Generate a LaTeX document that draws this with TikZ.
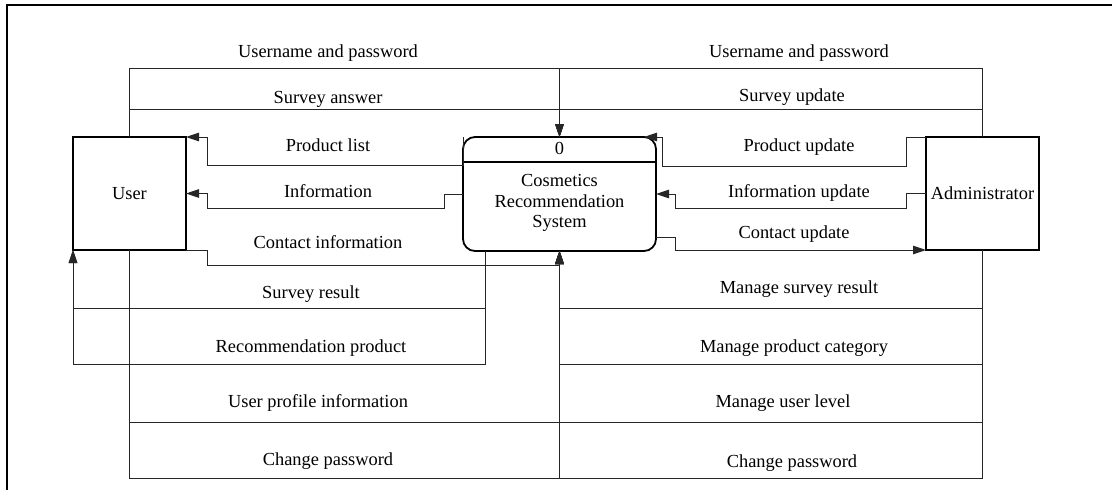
\documentclass[tikz,border=0pt]{standalone}
\usepackage{fontspec}
\setmainfont{Liberation Serif}
\usetikzlibrary{arrows.meta}
\tikzset{
  every node/.style={font=\fontsize{18.4}{20.7}\selectfont},
  conn/.style={draw=black!85, line width=1pt},
  flow/.style={conn, -{Triangle[length=13pt,width=8.5pt]}},
  entity/.style={draw, line width=1.4pt, minimum width=113pt, minimum height=113pt,
                 inner sep=2pt, outer sep=0pt},
  procbox/.style={draw, line width=1.8pt, rounded corners=12pt, minimum width=193pt,
                  minimum height=114pt, outer sep=0pt},
  lbl/.style={inner sep=0pt, text height=12.5pt, text depth=4pt, yshift=-1.5pt},
}
\begin{document}
\begin{tikzpicture}[x=1pt,y=-1pt]
\useasboundingbox (0,0) rectangle (1112,490);
% page frame
\draw[line width=2.5pt] (7,492) -- (7,5) -- (1114,5);

% external entities and the process
\node[entity] (user) at (129.5,193.5) {User};
\node[entity] (admin) at (982.5,193.5) {Administrator};
\node[procbox] (proc) at (559.5,194) {};
\draw[line width=1.2pt] ([yshift=-25pt]proc.north west) -- ([yshift=-25pt]proc.north east);
\node (pnum) at (559.5,148) {0};
\node[align=center] (ptext) at (559.5,203) {Cosmetics\\Recommendation\\System};

% flows from the user
\draw[flow] (user.north) -- ++(0,-69) -| (proc.north);
\draw[flow] (user.north) |- ([yshift=28pt]proc.north) -- (proc.north);
\draw[flow] (proc.north west) -- ++(0,28) -| ([xshift=21pt]user.north east) -- (user.north east);
\draw[flow] (proc.west) -- ++(-19,0) -- ++(0,14) -| ([xshift=21pt]user.east) -- (user.east);
\draw[flow] (user.south east) -- ++(21,0) -- ++(0,15) -| (proc.south);
\draw[flow] ([xshift=-74.5pt]proc.south) -- ++(0,57) -| (user.south west);
\draw[flow] ([xshift=-74.5pt]proc.south) -- ++(0,113) -| (user.south west);
\draw[flow] (user.south) -- ++(0,172) -| (proc.south);
\draw[flow] (user.south) -- ++(0,228) -| (proc.south);

% flows from the administrator
\draw[flow] (admin.north) -- ++(0,-69) -| (proc.north);
\draw[flow] (admin.north) |- ([yshift=28pt]proc.north) -- (proc.north);
\draw[flow] (admin.north west) -- ++(-20,0) -- ++(0,29) -| ([xshift=6pt]proc.north east) -- ([xshift=-12pt]proc.north east);
\draw[flow] (admin.west) -- ++(-20,0) -- ++(0,14.5) -| ([xshift=19pt]proc.east) -- (proc.east);
\draw[flow] ([yshift=-43pt]proc.east) -- ++(19,0) |- (admin.south west);
\draw[flow] (admin.south) -- ++(0,58) -| (proc.south);
\draw[flow] (admin.south) -- ++(0,114) -| (proc.south);
\draw[flow] (admin.south) -- ++(0,172) -| (proc.south);
\draw[flow] (admin.south) -- ++(0,228) -| (proc.south);

% flow labels, user side
\node[lbl] (l1) at (328,52) {Username and password};
\node[lbl] (l2) at (328,98) {Survey answer};
\node[lbl] (l3) at (328,146) {Product list};
\node[lbl] (l4) at (328,192) {Information};
\node[lbl] (l5) at (328,243) {Contact information};
\node[lbl] (l6) at (311,293) {Survey result};
\node[lbl] (l7) at (311,347) {Recommendation product};
\node[lbl] (l8) at (318,402) {User profile information};
\node[lbl] (l9) at (328,460) {Change password};

% flow labels, administrator side
\node[lbl] (r1) at (799,52) {Username and password};
\node[lbl] (r2) at (792,96) {Survey update};
\node[lbl] (r3) at (799,146) {Product update};
\node[lbl] (r4) at (799,192) {Information update};
\node[lbl] (r5) at (794,233) {Contact update};
\node[lbl] (r6) at (799,288) {Manage survey result};
\node[lbl] (r7) at (794,347) {Manage product category};
\node[lbl] (r8) at (783,402) {Manage user level};
\node[lbl] (r9) at (792,462) {Change password};
\end{tikzpicture}
\end{document}
